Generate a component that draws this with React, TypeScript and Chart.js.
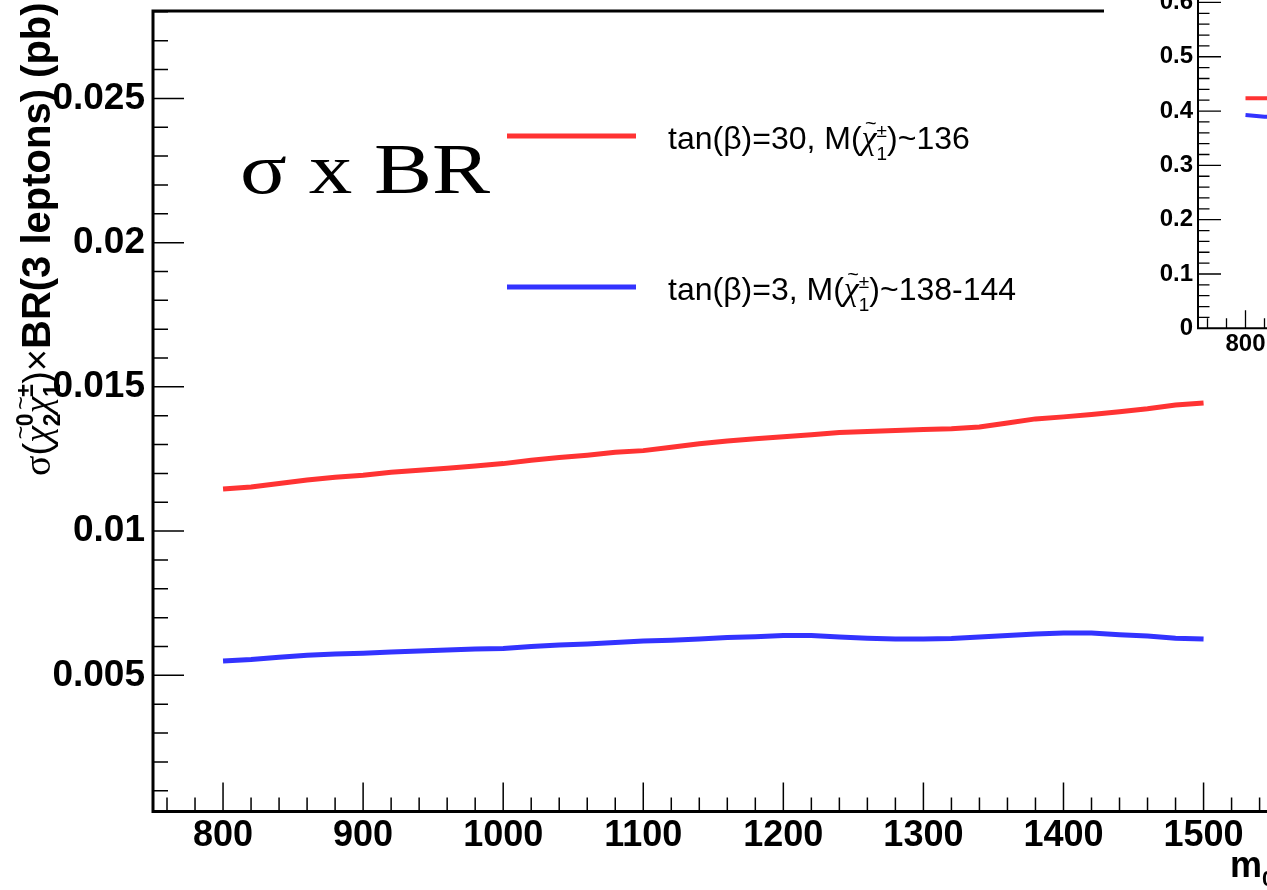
import { useEffect, useRef } from "react";
import { Chart, registerables } from "chart.js";

Chart.register(...registerables);

// ---- main pad: sigma x BR(3 leptons) versus m0 ----
const massPoints = [
  800, 820, 840, 860, 880, 900, 920, 940, 960, 980, 1000, 1020, 1040, 1060, 1080, 1100, 1120, 1140,
  1160, 1180, 1200, 1220, 1240, 1260, 1280, 1300, 1320, 1340, 1360, 1380, 1400, 1420, 1440, 1460,
  1480, 1500,
];
const sigmaBrTanBeta30 = [
  0.01146, 0.01153, 0.01165, 0.01177, 0.01187, 0.01194, 0.01204, 0.01211, 0.01218, 0.01226, 0.01234,
  0.01246, 0.01255, 0.01263, 0.01273, 0.01279, 0.01291, 0.01303, 0.01312, 0.0132, 0.01327, 0.01334,
  0.01342, 0.01345, 0.01349, 0.01352, 0.01355, 0.01361, 0.01375, 0.01389, 0.01396, 0.01404, 0.01414,
  0.01424, 0.01437, 0.01444,
];
const sigmaBrTanBeta3 = [
  0.0055, 0.00555, 0.00563, 0.0057, 0.00574, 0.00577, 0.00581, 0.00584, 0.00588, 0.00591, 0.00593,
  0.006, 0.00605, 0.00609, 0.00614, 0.00619, 0.00622, 0.00626, 0.00631, 0.00634, 0.00638, 0.00638,
  0.00633, 0.00629, 0.00626, 0.00626, 0.00628, 0.00633, 0.00638, 0.00643, 0.00647, 0.00647, 0.00641,
  0.00636, 0.00629, 0.00626,
];
const xTickValues = [800, 900, 1000, 1100, 1200, 1300, 1400, 1500];
const xTickLabels = ["800", "900", "1000", "1100", "1200", "1300", "1400", "1500"];
const yTickValues = [0.005, 0.01, 0.015, 0.02, 0.025];
const yTickLabels = ["0.005", "0.01", "0.015", "0.02", "0.025"];
const seriesTanBeta = ["tan(β)=30", "tan(β)=3"];
const seriesCharginoMass = ["~136", "~138-144"];

// ---- inset pad: branching ratio versus m0 ----
const insetMassPoints = [800, 820, 840];
const insetBrTanBeta30 = [0.4236, 0.4236, 0.4236];
const insetBrTanBeta3 = [0.3928, 0.3897, 0.3897];
const insetXTickValues = [800, 900, 1000, 1100, 1200, 1300, 1400, 1500];
const insetXTickLabels = ["800", "900", "1000", "1100", "1200", "1300", "1400", "1500"];
const insetYTickValues = [0, 0.1, 0.2, 0.3, 0.4, 0.5, 0.6];
const insetYTickLabels = ["0", "0.1", "0.2", "0.3", "0.4", "0.5", "0.6"];

const RED = "#ff3333";
const BLUE = "#3333ff";
const SANS = '"Liberation Sans", Arial, Helvetica, sans-serif';
const SERIF = '"Liberation Serif", "Times New Roman", serif';

type Run = { t: string; f: string; dy?: number; keep?: boolean; tilde?: boolean };

// Draws a row of text runs (with sub/superscripts and tilde accents) left to right.
function drawRuns(ctx: CanvasRenderingContext2D, runs: Run[], x0: number, y0: number): number {
  let x = x0;
  let pending = 0;
  ctx.textAlign = "left";
  ctx.textBaseline = "alphabetic";
  for (const r of runs) {
    ctx.font = r.f;
    const w = ctx.measureText(r.t).width;
    ctx.fillText(r.t, x, y0 + (r.dy ?? 0));
    if (r.tilde) {
      const m = r.f.match(/(\d+(?:\.\d+)?)px/);
      const size = m ? parseFloat(m[1]) : 20;
      ctx.save();
      ctx.font = `${Math.round(size * 0.6)}px ${SANS}`;
      ctx.textAlign = "center";
      ctx.fillText("~", x + w * 0.62, y0 - size * 0.56);
      ctx.restore();
    }
    if (r.keep) {
      pending = w;
      continue;
    }
    x += Math.max(w, pending);
    pending = 0;
  }
  return x - x0;
}

function legendRuns(tanBeta: string, mass: string): Run[] {
  const f = `32px ${SANS}`;
  const s = `19px ${SANS}`;
  return [
    { t: `${tanBeta}, M(`, f },
    { t: "χ", f: `italic 34px ${SERIF}`, tilde: true },
    { t: "±", f: s, dy: -12, keep: true },
    { t: "1", f: s, dy: 11 },
    { t: `)${mass}`, f },
  ];
}

// Removes the label overhang padding Chart.js reserves, so the frame sits exactly.
function zeroPadding(s: any) {
  s.paddingTop = 0;
  s.paddingBottom = 0;
  s.paddingLeft = 0;
  s.paddingRight = 0;
}

const mainDecor = {
  id: "mainDecor",
  afterDraw(chart: Chart) {
    const { ctx, chartArea: a } = chart;
    const x = chart.scales.x;
    const y = chart.scales.y;
    ctx.save();
    ctx.strokeStyle = "#000";
    ctx.fillStyle = "#000";
    ctx.lineCap = "butt";

    // ticks pointing into the frame
    ctx.lineWidth = 1.5;
    ctx.beginPath();
    for (let v = 760; v < x.max; v += 20) {
      const px = x.getPixelForValue(v);
      const len = v % 100 === 0 ? 29 : 14;
      ctx.moveTo(px, a.bottom);
      ctx.lineTo(px, a.bottom - len);
    }
    for (let i = 1; i * 0.001 <= y.max; i++) {
      const py = y.getPixelForValue(i * 0.001);
      const len = i % 5 === 0 ? 31 : 15;
      ctx.moveTo(a.left, py);
      ctx.lineTo(a.left + len, py);
    }
    ctx.stroke();

    // frame
    ctx.lineWidth = 3;
    ctx.beginPath();
    ctx.moveTo(a.left, a.top);
    ctx.lineTo(a.right, a.top);
    ctx.lineTo(a.right, a.bottom);
    ctx.lineTo(a.left, a.bottom);
    ctx.closePath();
    ctx.stroke();

    // legend
    const rows = [
      { color: RED, yLine: 136, base: 149, i: 0 },
      { color: BLUE, yLine: 287, base: 300, i: 1 },
    ];
    for (const r of rows) {
      ctx.strokeStyle = r.color;
      ctx.lineWidth = 5;
      ctx.beginPath();
      ctx.moveTo(507, r.yLine);
      ctx.lineTo(636, r.yLine);
      ctx.stroke();
      ctx.fillStyle = "#000";
      drawRuns(ctx, legendRuns(seriesTanBeta[r.i], seriesCharginoMass[r.i]), 668, r.base);
    }

    // sigma x BR caption
    ctx.save();
    ctx.font = `72px ${SERIF}`;
    const cw = ctx.measureText("σ x BR").width;
    ctx.translate(240, 193);
    ctx.scale(250 / cw, 1);
    ctx.textAlign = "left";
    ctx.textBaseline = "alphabetic";
    ctx.fillText("σ x BR", 0, 0);
    ctx.restore();

    // y-axis title
    ctx.save();
    ctx.translate(50, 476);
    ctx.rotate(-Math.PI / 2);
    const B = `bold 40px ${SANS}`;
    const R = `38px ${SANS}`;
    const sm = `bold 23px ${SANS}`;
    drawRuns(
      ctx,
      [
        { t: "σ", f: `38px ${SERIF}` },
        { t: "(", f: R },
        { t: "χ", f: `italic 38px ${SERIF}`, tilde: true },
        { t: "0", f: sm, dy: -17, keep: true },
        { t: "2", f: sm, dy: 10 },
        { t: "χ", f: `italic 38px ${SERIF}`, tilde: true },
        { t: "±", f: sm, dy: -17, keep: true },
        { t: "1", f: sm, dy: 10 },
        { t: ")", f: R },
        { t: "×", f: R },
        { t: "BR(3 leptons) (pb)", f: B },
      ],
      0,
      0
    );
    ctx.restore();

    // x-axis title
    drawRuns(
      ctx,
      [
        { t: "m", f: `bold 36px ${SANS}` },
        { t: "0", f: `bold 22px ${SANS}`, dy: 9 },
      ],
      1230,
      877
    );
    ctx.restore();
  },
};

const insetDecor = {
  id: "insetDecor",
  beforeDraw(chart: Chart) {
    const { ctx, width, height } = chart;
    ctx.save();
    ctx.fillStyle = "#fff";
    ctx.fillRect(0, 0, width, height);
    ctx.restore();
  },
  afterDraw(chart: Chart) {
    const { ctx, chartArea: a } = chart;
    const x = chart.scales.x;
    const y = chart.scales.y;
    ctx.save();
    ctx.strokeStyle = "#000";
    ctx.lineWidth = 1.3;
    ctx.beginPath();
    for (let v = 760; v < x.max; v += 20) {
      const px = x.getPixelForValue(v);
      const len = v % 100 === 0 ? 18 : 10;
      ctx.moveTo(px, a.bottom);
      ctx.lineTo(px, a.bottom - len);
    }
    for (let i = 1; i * 0.02 <= y.max + 1e-9; i++) {
      const py = y.getPixelForValue(i * 0.02);
      const len = i % 5 === 0 ? 23 : 11.5;
      ctx.moveTo(a.left, py);
      ctx.lineTo(a.left + len, py);
    }
    ctx.stroke();
    ctx.lineWidth = 2;
    ctx.beginPath();
    ctx.moveTo(a.left, a.top);
    ctx.lineTo(a.right, a.top);
    ctx.lineTo(a.right, a.bottom);
    ctx.lineTo(a.left, a.bottom);
    ctx.closePath();
    ctx.stroke();
    ctx.restore();
  },
};

function lineSet(label: string, xs: number[], ys: number[], color: string, width: number) {
  return {
    label,
    data: xs.map((m, i) => ({ x: m, y: ys[i] })),
    borderColor: color,
    backgroundColor: color,
    borderWidth: width,
    pointRadius: 0,
    tension: 0,
    fill: false,
    borderCapStyle: "butt" as const,
  };
}

export default function App() {
  const mainRef = useRef<HTMLCanvasElement | null>(null);
  const insetRef = useRef<HTMLCanvasElement | null>(null);

  useEffect(() => {
    if (!mainRef.current || !insetRef.current) return;
    const xTickFont = { family: SANS, weight: "bold" as const, size: 36 };
    const yTickFont = { family: SANS, weight: "bold" as const, size: 37 };
    const noGrid = { display: false, drawTicks: false };

    const main = new Chart(mainRef.current, {
      type: "line",
      data: {
        datasets: [
          lineSet(seriesTanBeta[0], massPoints, sigmaBrTanBeta30, RED, 5),
          lineSet(seriesTanBeta[1], massPoints, sigmaBrTanBeta3, BLUE, 5),
        ],
      },
      options: {
        animation: false,
        responsive: false,
        devicePixelRatio: 1,
        layout: { padding: { left: 0, top: 11, right: 46.4, bottom: 0 } },
        plugins: { legend: { display: false }, tooltip: { enabled: false } },
        scales: {
          x: {
            type: "linear",
            min: 750,
            max: 1550,
            grid: noGrid,
            border: { display: false },
            afterBuildTicks: (s: any) => {
              s.ticks = xTickValues.map((v) => ({ value: v }));
            },
            afterFit: (s: any) => {
              s.height = 78.5;
              zeroPadding(s);
            },
            ticks: {
              autoSkip: false,
              maxRotation: 0,
              padding: 3,
              color: "#000",
              font: xTickFont,
              callback: (v: any) => xTickLabels[xTickValues.indexOf(Number(v))] ?? "",
            },
          },
          y: {
            type: "linear",
            min: 0.00028,
            max: 0.02803,
            grid: noGrid,
            border: { display: false },
            afterBuildTicks: (s: any) => {
              s.ticks = yTickValues.map((v) => ({ value: v }));
            },
            afterFit: (s: any) => {
              s.width = 153;
              zeroPadding(s);
            },
            ticks: {
              autoSkip: false,
              padding: 8,
              color: "#000",
              font: yTickFont,
              callback: (v: any) => {
                const i = yTickValues.findIndex((t) => Math.abs(t - Number(v)) < 1e-9);
                return i >= 0 ? yTickLabels[i] : "";
              },
            },
          },
        },
      },
      plugins: [mainDecor],
    });

    const insetTickFont = { family: SANS, weight: "bold" as const, size: 24 };
    const inset = new Chart(insetRef.current, {
      type: "line",
      data: {
        datasets: [
          lineSet(seriesTanBeta[0], insetMassPoints, insetBrTanBeta30, RED, 4),
          lineSet(seriesTanBeta[1], insetMassPoints, insetBrTanBeta3, BLUE, 4),
        ],
      },
      options: {
        animation: false,
        responsive: false,
        devicePixelRatio: 1,
        layout: { padding: { left: 0, top: 15.3, right: 26, bottom: 0 } },
        plugins: { legend: { display: false }, tooltip: { enabled: false } },
        scales: {
          x: {
            type: "linear",
            min: 750,
            max: 1550,
            grid: noGrid,
            border: { display: false },
            afterBuildTicks: (s: any) => {
              s.ticks = insetXTickValues.map((v) => ({ value: v }));
            },
            afterFit: (s: any) => {
              s.height = 51.7;
              zeroPadding(s);
            },
            ticks: {
              autoSkip: false,
              maxRotation: 0,
              padding: 2,
              color: "#000",
              font: insetTickFont,
              callback: (v: any) => insetXTickLabels[insetXTickValues.indexOf(Number(v))] ?? "",
            },
          },
          y: {
            type: "linear",
            min: 0,
            max: 0.65,
            grid: noGrid,
            border: { display: false },
            afterBuildTicks: (s: any) => {
              s.ticks = insetYTickValues.map((v) => ({ value: v }));
            },
            afterFit: (s: any) => {
              s.width = 94;
              zeroPadding(s);
            },
            ticks: {
              autoSkip: false,
              padding: 5,
              color: "#000",
              font: insetTickFont,
              callback: (v: any) => {
                const i = insetYTickValues.findIndex((t) => Math.abs(t - Number(v)) < 1e-9);
                return i >= 0 ? insetYTickLabels[i] : "";
              },
            },
          },
        },
      },
      plugins: [insetDecor],
    });

    return () => {
      main.destroy();
      inset.destroy();
    };
  }, []);

  return (
    <div
      style={{
        position: "fixed",
        left: 0,
        top: 0,
        width: 1267,
        height: 890,
        overflow: "hidden",
        background: "#fff",
      }}
    >
      <canvas
        ref={mainRef}
        width={1320}
        height={890}
        style={{ position: "absolute", left: 0, top: 0, display: "block" }}
      />
      <canvas
        ref={insetRef}
        width={880}
        height={420}
        style={{ position: "absolute", left: 1104, top: -40, display: "block" }}
      />
    </div>
  );
}
